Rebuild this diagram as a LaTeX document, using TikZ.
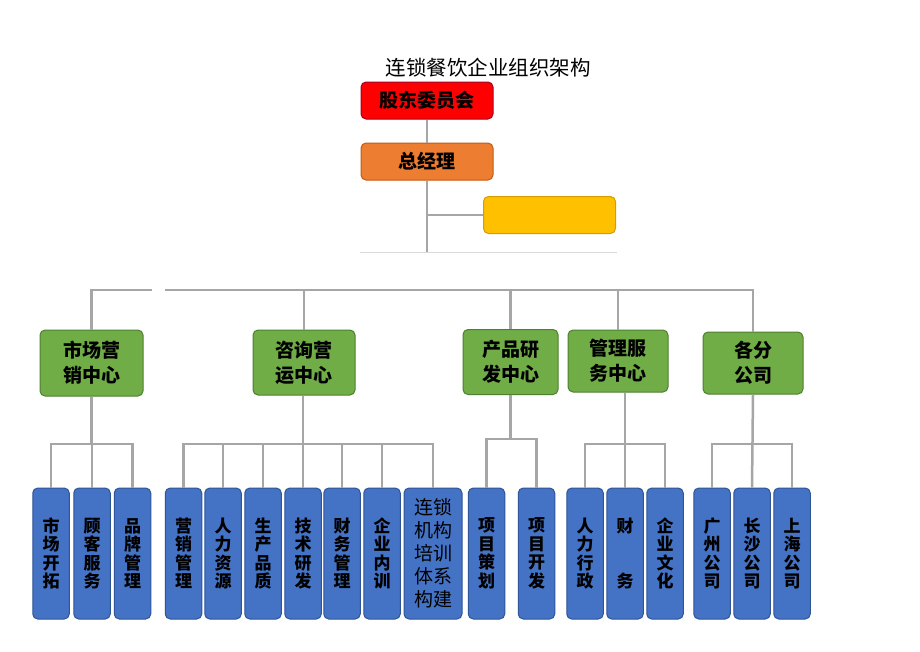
\documentclass[tikz,border=0pt]{standalone}
\usepackage{fontspec}
\setmainfont{Noto Sans CJK SC}
\definecolor{lin}{HTML}{A6A6A6}
\definecolor{thin}{HTML}{D9D9D9}
\definecolor{bluef}{HTML}{4472C4}
\definecolor{blued}{HTML}{2F5597}
\definecolor{greenf}{HTML}{70AD47}
\definecolor{greend}{HTML}{507E32}
\definecolor{redf}{HTML}{FF0000}
\definecolor{redd}{HTML}{A50021}
\definecolor{orangef}{HTML}{ED7D31}
\definecolor{oranged}{HTML}{C55A11}
\definecolor{yellowf}{HTML}{FFC000}
\definecolor{yellowd}{HTML}{D39E00}
\tikzset{
  box/.style={rounded corners=5pt, line width=1pt, inner sep=0pt, align=center},
  topbox/.style={box, minimum width=132pt, minimum height=37pt, font=\fontsize{19}{22}\selectfont\bfseries},
  gbox/.style={box, fill=greenf, draw=greend, font=\fontsize{19}{25}\selectfont\bfseries},
  bbox/.style={box, fill=bluef, draw=blued, minimum width=36.5pt, minimum height=131pt, font=\fontsize{17}{18.5}\selectfont\bfseries},
  conn/.style={draw=lin, line width=2.5pt},
}
\begin{document}
\begin{tikzpicture}[x=1pt, y=-1pt]
\useasboundingbox[fill=white] (0,0) rectangle (920,651);
\node (title) at (488,68) {\fontsize{20.5}{24}\selectfont 连锁餐饮企业组织架构};
% top boxes
\node[topbox, fill=redf, draw=redd] (r) at (427,100.5) {股东委员会};
\node[topbox, fill=orangef, draw=oranged] (o) at (427,161.5) {总经理};
\node[topbox, fill=yellowf, draw=yellowd] (yb) at (549.5,215) {};
\coordinate (stem) at (427,252);
\coordinate (hlL) at (360,252);
\coordinate (hlR) at (617,252);
\draw[draw=thin, line width=1pt] (hlL) -- (hlR);
\draw[conn] (r.south) -- (o.north);
\draw[conn] (o.south) -- (stem);
\draw[conn] (o.south |- yb.west) -- (yb.west);
% green boxes
\node[gbox, minimum width=103pt, minimum height=66pt] (g1) at (91.5,363) {市场营\\销中心};
\node[gbox, minimum width=102pt, minimum height=65pt] (g2) at (304,362.5) {咨询营\\运中心};
\node[gbox, minimum width=95pt, minimum height=65pt] (g3) at (510.5,362) {产品研\\发中心};
\node[gbox, minimum width=100pt, minimum height=62pt] (g4) at (618,361) {管理服\\务中心};
\node[gbox, minimum width=100pt, minimum height=62pt] (g5) at (753,363) {各分\\公司};
% top bus
\coordinate (gapL) at (152,290);
\coordinate (gapR) at (165,290);
\draw[conn] (gapL) -| (g1.north);
\draw[conn] (gapR) -| (g5.north);
\draw[conn] (g2.north) -- (g2.north |- gapR);
\draw[conn] (g3.north) -- (g3.north |- gapR);
\draw[conn] (g4.north) -- (g4.north |- gapR);
% blue boxes
\node[bbox] (b1) at (51,553.5) {市\\场\\开\\拓};
\node[bbox] (b2) at (92,553.5) {顾\\客\\服\\务};
\node[bbox] (b3) at (132.5,553.5) {品\\牌\\管\\理};
\node[bbox] (b4) at (183.5,553.5) {营\\销\\管\\理};
\node[bbox] (b5) at (223,553.5) {人\\力\\资\\源};
\node[bbox] (b6) at (263,553.5) {生\\产\\品\\质};
\node[bbox] (b7) at (303,553.5) {技\\术\\研\\发};
\node[bbox] (b8) at (342,553.5) {财\\务\\管\\理};
\node[bbox] (b9) at (382,553.5) {企\\业\\内\\训};
\node[bbox, minimum width=58pt, font=\fontsize{19}{23}\selectfont] (b10) at (433,553.5) {连锁\\机构\\培训\\体系\\构建};
\node[bbox] (b11) at (486.5,553.5) {项\\目\\策\\划};
\node[bbox] (b12) at (536.5,553.5) {项\\目\\开\\发};
\node[bbox] (b13) at (585,553.5) {人\\力\\行\\政};
\node[bbox] (b14) at (625,553.5) {财\\[37pt]务};
\node[bbox] (b15) at (665,553.5) {企\\业\\文\\化};
\node[bbox] (b16) at (712,553.5) {广\\州\\公\\司};
\node[bbox] (b17) at (752,553.5) {长\\沙\\公\\司};
\node[bbox] (b18) at (792,553.5) {上\\海\\公\\司};
% group 1
\coordinate (bus1) at (91.5,444);
\draw[conn] (g1.south) -- (bus1);
\draw[conn] (b1.north) |- (bus1) -| (b3.north);
\draw[conn] (b2.north) -- (b2.north |- bus1);
% group 2
\coordinate (bus2) at (303,444);
\draw[conn] (g2.south -| bus2) -- (b7.north);
\draw[conn] (b4.north) |- (bus2) -| (b10.north);
\foreach \b in {b5,b6,b8,b9} \draw[conn] (\b.north) -- (\b.north |- bus2);
% group 3
\coordinate (bus3) at (510.5,439);
\draw[conn] (g3.south) -- (bus3);
\draw[conn] (b11.north) |- (bus3) -| (b12.north);
% group 4
\coordinate (bus4) at (625,444);
\draw[conn] (g4.south -| bus4) -- (b14.north);
\draw[conn] (b13.north) |- (bus4) -| (b15.north);
% group 5
\coordinate (bus5) at (753,444);
\draw[conn] (g5.south) -- (b17.north);
\draw[conn] (b16.north) |- (bus5) -| (b18.north);
\end{tikzpicture}
\end{document}
